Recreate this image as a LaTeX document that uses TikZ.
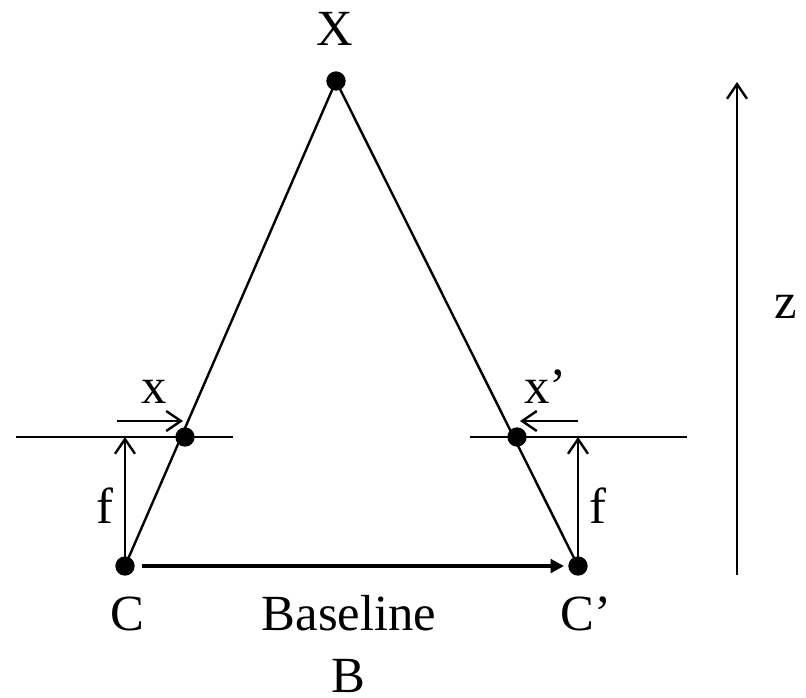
\documentclass[tikz,border=0pt]{standalone}
\usepackage{fontspec}
\setmainfont{Liberation Serif}
\usetikzlibrary{arrows.meta}
\begin{document}
\begin{tikzpicture}[x=0.75pt,y=-0.75pt,
  dot/.style={circle,fill=black,inner sep=0pt,minimum size=14.5pt},
  ln/.style={line width=1.8pt},
  barb/.style={ln,-{Straight Barb[length=11pt,width=15pt]}},
  lbl/.style={font=\fontsize{38}{46}\selectfont,inner sep=0pt,anchor=base}]
\useasboundingbox (0,0) rectangle (806,697);
% key points
\coordinate (X) at (336,81);
\coordinate (P) at (185,437);
\coordinate (Q) at (517,437);
\coordinate (C) at (125,566);
\coordinate (Cp) at (578,566);
% image planes
\coordinate (L1) at (16,437);
\coordinate (L2) at (233,437);
\coordinate (R1) at (470,437);
\coordinate (R2) at (687,437);
\coordinate (Ft) at (125,437);
\coordinate (Fpt) at (578,437);
% small x arrows
\coordinate (xa) at (117,421);
\coordinate (xb) at (183,421);
\coordinate (xpa) at (578,421);
\coordinate (xpb) at (520,421);
% z arrow
\coordinate (za) at (737,575);
\coordinate (zb) at (737,82);
% rays
\draw[ln] (C) -- (X);
\draw[ln] (Cp) -- (X);
% planes
\draw[ln] (L1) -- (L2);
\draw[ln] (R1) -- (R2);
% focal arrows
\draw[barb] (C) -- (Ft);
\draw[barb] (Cp) -- (Fpt);
\draw[barb] (xa) -- (xb);
\draw[barb] (xpa) -- (xpb);
\draw[barb] (za) -- (zb);
% dots
\node[dot] (Xd) at (X) {};
\node[dot] (Pd) at (P) {};
\node[dot] (Qd) at (Q) {};
\node[dot] (Cd) at (C) {};
\node[dot] (Cpd) at (Cp) {};
% baseline
\draw[line width=3pt,-{Triangle[length=10pt,width=10pt]},shorten <=5pt,shorten >=3pt] (Cd) -- (Cpd);
% labels
\node[lbl] (lX) at (335,45) {X};
\node[lbl] (lx) at (154,403) {x};
\node[lbl,anchor=base west] (lxp) at (524,403) {x’};
\node[lbl] (lf) at (105,523) {f};
\node[lbl] (lfp) at (598,523) {f};
\node[lbl] (lC) at (127,630) {C};
\node[lbl,anchor=base west] (lCp) at (560,630) {C’};
\node[lbl] (lBase) at (349,630) {Baseline};
\node[lbl] (lB) at (348,692) {B};
\node[lbl] (lz) at (786,318) {z};
\end{tikzpicture}
\end{document}
